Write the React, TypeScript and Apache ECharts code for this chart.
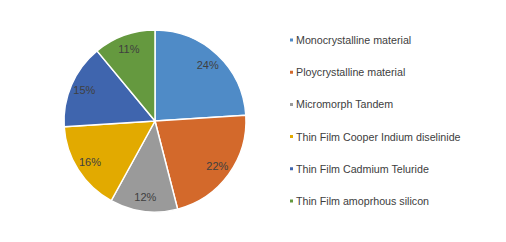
import React, { useEffect, useRef } from "react";
import * as echarts from "echarts";

const categories = [
  "Monocrystalline material",
  "Ploycrystalline material",
  "Micromorph Tandem",
  "Thin Film Cooper Indium diselinide",
  "Thin Film Cadmium Teluride",
  "Thin Film amoprhous silicon",
];
const shares = [24, 22, 12, 16, 15, 11];
const colors = ["#4F8BC7", "#D3692B", "#9A9A9A", "#E2AA00", "#3F65AE", "#65993F"];

export default function App() {
  const ref = useRef<HTMLDivElement>(null);
  useEffect(() => {
    document.body.style.margin = "0";
    const chart = echarts.init(ref.current!, null, { renderer: "svg" });
    const data = categories.map((name, i) => ({
      name,
      value: shares[i],
      itemStyle: { color: colors[i] },
    }));
    chart.setOption({
      animation: false,
      backgroundColor: "#ffffff",
      legend: {
        orient: "vertical",
        left: 283,
        top: 29,
        itemWidth: 5,
        itemHeight: 5,
        itemGap: 20.2,
        icon: "rect",
        data: categories,
        textStyle: {
          fontFamily: "Liberation Sans",
          fontSize: 10.7,
          color: "#404040",
          lineHeight: 12,
          padding: [0, 0, 0, -3],
        },
      },
      series: [
        {
          type: "pie",
          center: [155, 121],
          radius: [0, 91],
          startAngle: 90,
          clockwise: true,
          silent: true,
          label: { show: false },
          labelLine: { show: false },
          itemStyle: { borderColor: "#ffffff", borderWidth: 1.5 },
          data,
        },
        {
          type: "pie",
          center: [155, 121],
          radius: [57, 91],
          startAngle: 90,
          clockwise: true,
          silent: true,
          z: 5,
          itemStyle: { color: "rgba(0,0,0,0)", borderWidth: 0 },
          label: {
            show: true,
            position: "inside",
            formatter: "{c}%",
            fontFamily: "Liberation Sans",
            fontSize: 11,
            color: "#404040",
          },
          labelLine: { show: false },
          data: categories.map((name, i) => ({ name, value: shares[i] })),
        },
      ],
    });
    return () => chart.dispose();
  }, []);
  return <div ref={ref} style={{ width: 506, height: 242 }} />;
}
